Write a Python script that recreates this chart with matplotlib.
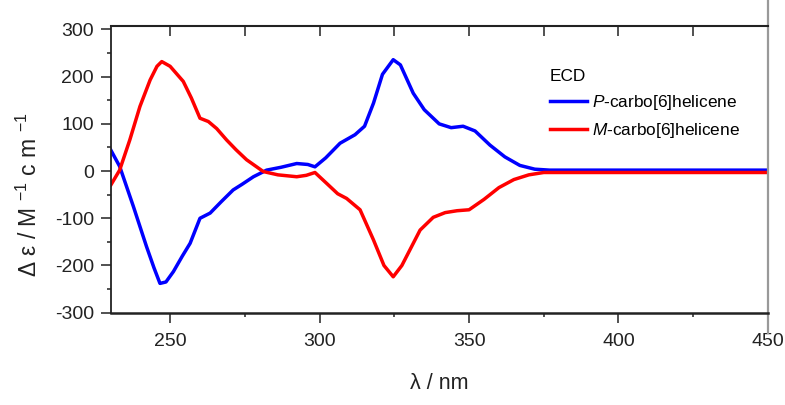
import matplotlib; matplotlib.use('Agg'); import matplotlib.pyplot as plt
from matplotlib.ticker import MultipleLocator
plt.rcParams.update({'font.family': ['Liberation Sans', 'DejaVu Sans'],
                     'mathtext.fontset': 'custom', 'mathtext.rm': 'Liberation Sans',
                     'mathtext.it': 'Liberation Sans:italic',
                     'axes.unicode_minus': False})
INK = '#222222'

# ECD spectra (wavelength nm, delta eps M-1 cm-1)
wl_P = [230, 233, 237.6, 242, 244.5, 246.5, 248.5, 251, 254, 256.6, 259.9, 263.3, 267, 271, 274,
        277.8, 282.2, 287, 292.3, 296, 298.4, 302, 306.8, 311.8, 315, 318, 321, 324.6, 327,
        331.3, 335, 340, 344, 348, 352, 357, 362, 367, 372, 377, 385, 400, 420, 450]
de_P = [45, 10, -75, -160, -205, -238, -235, -213, -180, -153, -100, -89, -65, -40, -28,
        -12, 2, 8, 16, 14, 9, 28, 59, 77, 95, 144, 205, 236, 225,
        165, 130, 100, 92, 95, 85, 55, 30, 12, 4, 2, 2, 2, 2, 2]
wl_M = [230.1, 233, 236.4, 239.8, 243.2, 245.5, 247.1, 249.9, 254.3, 257, 259.9, 262.7, 265.5,
        268.8, 272, 275.5, 281.1, 286, 292.3, 295.5, 298.4, 302.3, 306, 309, 313.5, 318,
        321.5, 324.6, 327.5, 333.6, 338, 342, 346, 350, 355, 360, 365, 370, 375, 385, 400, 420, 450]
de_M = [-29, 2, 66, 137, 193, 222, 232, 222, 190, 155, 112, 105, 90,
        66, 45, 24, -1, -8, -12, -9, -3, -26, -48, -58, -82, -146,
        -200, -224, -200, -125, -98, -88, -84, -82, -60, -35, -18, -8, -3, -3, -3, -3, -3]

fig = plt.figure(figsize=(7.85, 4.05), dpi=100)
ax = fig.add_axes([0.141, 0.228, 0.837, 0.7085])
ax.plot(wl_P, de_P, color='#0000ff', lw=2.5, label=r'$\mathit{P}$-carbo[6]helicene')
ax.plot(wl_M, de_M, color='#ff0000', lw=2.5, label=r'$\mathit{M}$-carbo[6]helicene')
ax.set_xlim(230, 450); ax.set_ylim(-300, 308)
ax.set_yticks([-300, -200, -100, 0, 100, 200, 300])
ax.set_xticks([250, 300, 350, 400, 450])
ax.xaxis.set_minor_locator(MultipleLocator(25)); ax.yaxis.set_minor_locator(MultipleLocator(50))
ax.tick_params(axis='both', which='major', direction='out', length=7, width=1.1, colors=INK, labelsize=14)
ax.tick_params(axis='both', which='minor', direction='out', length=3, width=1.1, colors=INK)
ax.tick_params(axis='x', pad=8); ax.tick_params(axis='y', pad=5)
for s in ['left', 'bottom', 'top']:
    ax.spines[s].set_color(INK)
ax.spines['left'].set_linewidth(1.3); ax.spines['bottom'].set_linewidth(1.8); ax.spines['top'].set_linewidth(1.5)
ax.spines['right'].set_visible(False)
ax.plot([1, 1], [-0.07, 1.1], transform=ax.transAxes, color='#999999', lw=1.6, clip_on=False)
top = ax.secondary_xaxis('top')
top.xaxis.set_major_locator(MultipleLocator(25))
top.tick_params(direction='in', length=7, width=1.1, labeltop=False, colors=INK)
top.spines['top'].set_visible(False)
ax.set_xlabel('λ / nm', fontsize=15.5, color=INK)
ax.xaxis.set_label_coords(0.5, -0.212)
ax.set_ylabel(r'Δ ε / M $^{-1}$ c m $^{-1}$', fontsize=16.5, color=INK)
ax.yaxis.set_label_coords(-0.105, 0.41)
leg = ax.legend(title='ECD', loc='upper left', bbox_to_anchor=(0.668, 0.848), frameon=False,
                fontsize=12.4, title_fontsize=12.4, handlelength=2.2, handletextpad=0.25,
                labelspacing=0.5, borderaxespad=0, borderpad=0)
leg._legend_box.align = 'left'
fig.savefig('out.png', dpi=100, facecolor='white')
